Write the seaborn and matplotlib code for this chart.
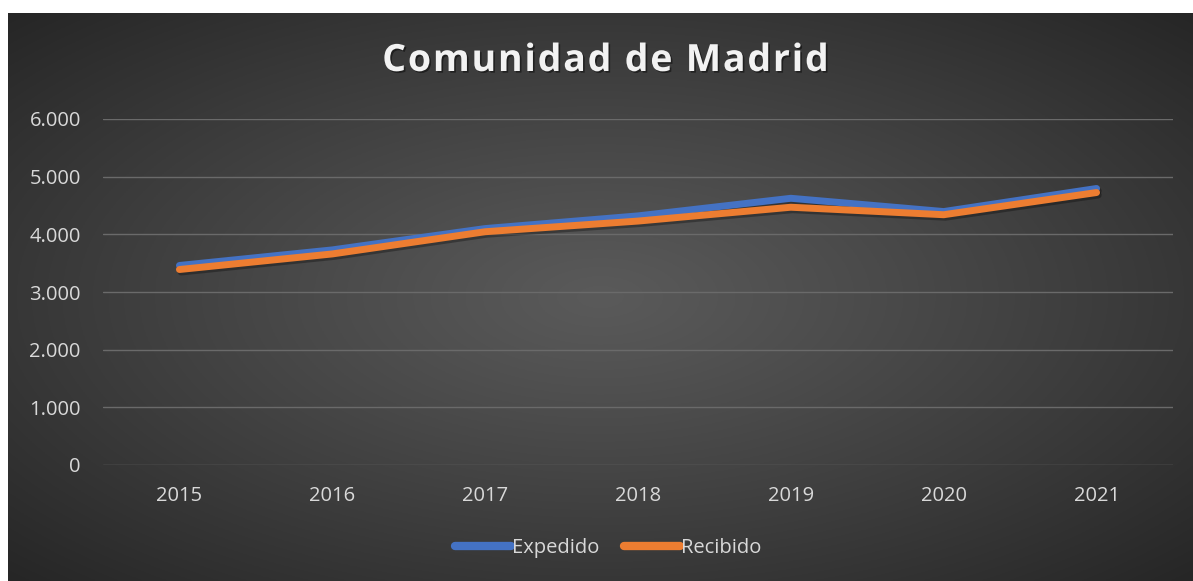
import numpy as np
import pandas as pd
import matplotlib
matplotlib.use("Agg")
import matplotlib.pyplot as plt
import matplotlib.patheffects as pe
from matplotlib.ticker import FuncFormatter
from matplotlib.textpath import TextPath
from matplotlib.font_manager import FontProperties
import seaborn as sns

# data
years = ["2015", "2016", "2017", "2018", "2019", "2020", "2021"]
expedido = [3460, 3730, 4100, 4320, 4625, 4395, 4795]
recibido = [3390, 3660, 4045, 4230, 4470, 4340, 4725]
series_names = ["Expedido", "Recibido"]
series_colors = ["#4472C4", "#ED7D31"]
title = "Comunidad de Madrid"

df = pd.DataFrame({
    "year": years * 2,
    "value": expedido + recibido,
    "serie": [series_names[0]] * len(years) + [series_names[1]] * len(years),
})

sns.set_style("white")
plt.rcParams["font.family"] = ["Open Sans", "DejaVu Sans"]

W, H = 1193, 581
fig = plt.figure(figsize=(W / 100, H / 100), dpi=100)
fig.patch.set_facecolor("white")

# dark radial gradient background of the chart area
bg = fig.add_axes([8 / W, 0, (W - 8) / W, (H - 13) / H], zorder=-10)
yy, xx = np.mgrid[-1:1:300j, -1:1:600j]
d = np.sqrt(xx ** 2 + yy ** 2) / np.sqrt(2)
c0, c1 = 0x5a / 255, 0x26 / 255
shade = c0 + (c1 - c0) * np.clip(d, 0, 1) ** 1.1
bg.imshow(np.dstack([shade] * 3), aspect="auto", extent=(0, 1, 0, 1))
bg.set_axis_off()

# plot area: x 103..1173 px, y 119..465 px
ax = fig.add_axes([103 / W, (H - 465) / H, (1173 - 103) / W, (465 - 119) / H])
ax.set_facecolor("none")

sns.lineplot(data=df, x="year", y="value", hue="serie", palette=series_colors,
             linewidth=5, sort=False, ax=ax, legend=True)
for line in ax.lines:
    line.set_solid_capstyle("round")
    line.set_solid_joinstyle("round")
    line.set_path_effects([pe.SimpleLineShadow(offset=(1.2, -1.8), shadow_color="black", alpha=0.3),
                           pe.Normal()])

ax.set_xlim(-0.5, len(years) - 0.5)
ax.set_ylim(0, 6000)
ax.set_yticks(np.arange(0, 6001, 1000))
ax.yaxis.set_major_formatter(FuncFormatter(lambda v, p: f"{int(v):,}".replace(",", ".")))
ax.grid(axis="y", color="#6a6a6a", linewidth=1.0)
ax.grid(axis="x", visible=False)
for s in ax.spines.values():
    s.set_visible(False)
ax.tick_params(axis="both", length=0, labelsize=14.5, labelcolor="#D9D9D9")
ax.tick_params(axis="y", pad=16)
ax.tick_params(axis="x", pad=15)
ax.set_xlabel("")
ax.set_ylabel("")

handles, labels = ax.get_legend_handles_labels()
for h in handles:
    h.set_linewidth(6)
    h.set_solid_capstyle("round")
    h.set_path_effects([])
ax.legend(handles, labels, loc="center", bbox_to_anchor=(608 / W, (H - 548) / H),
          bbox_transform=fig.transFigure, ncol=2, frameon=False, fontsize=14.5,
          labelcolor="#D9D9D9", handlelength=2.8, handletextpad=0.05, columnspacing=1.2)

# title with letter spacing, drawn one character at a time
tsize = 27
fp = FontProperties(family="Open Sans", weight="bold", size=tsize)
spacing = 1.8  # extra px between letters
px_per_pt = 100 / 72


def advance(s):
    # advance width of s in px (the bar keeps trailing spaces counted)
    if not s:
        return 0
    bar = TextPath((0, 0), "|", prop=fp).vertices[:, 0].max()
    return (TextPath((0, 0), s + "|", prop=fp).vertices[:, 0].max() - bar) * px_per_pt


full = TextPath((0, 0), title, prop=fp).get_extents().x1 * px_per_pt
x0 = 604 - (full + spacing * (len(title) - 1)) / 2
shadow = [pe.withSimplePatchShadow(offset=(1.2, -1.2), shadow_rgbFace="black", alpha=0.45)]
for i, ch in enumerate(title):
    if ch == " ":
        continue
    x = x0 + advance(title[:i]) + spacing * i
    fig.text(x / W, (H - 61) / H, ch, ha="left", va="center", fontsize=tsize,
             fontweight="bold", color="#F2F2F2", path_effects=shadow)

fig.savefig("out.png", dpi=100)
